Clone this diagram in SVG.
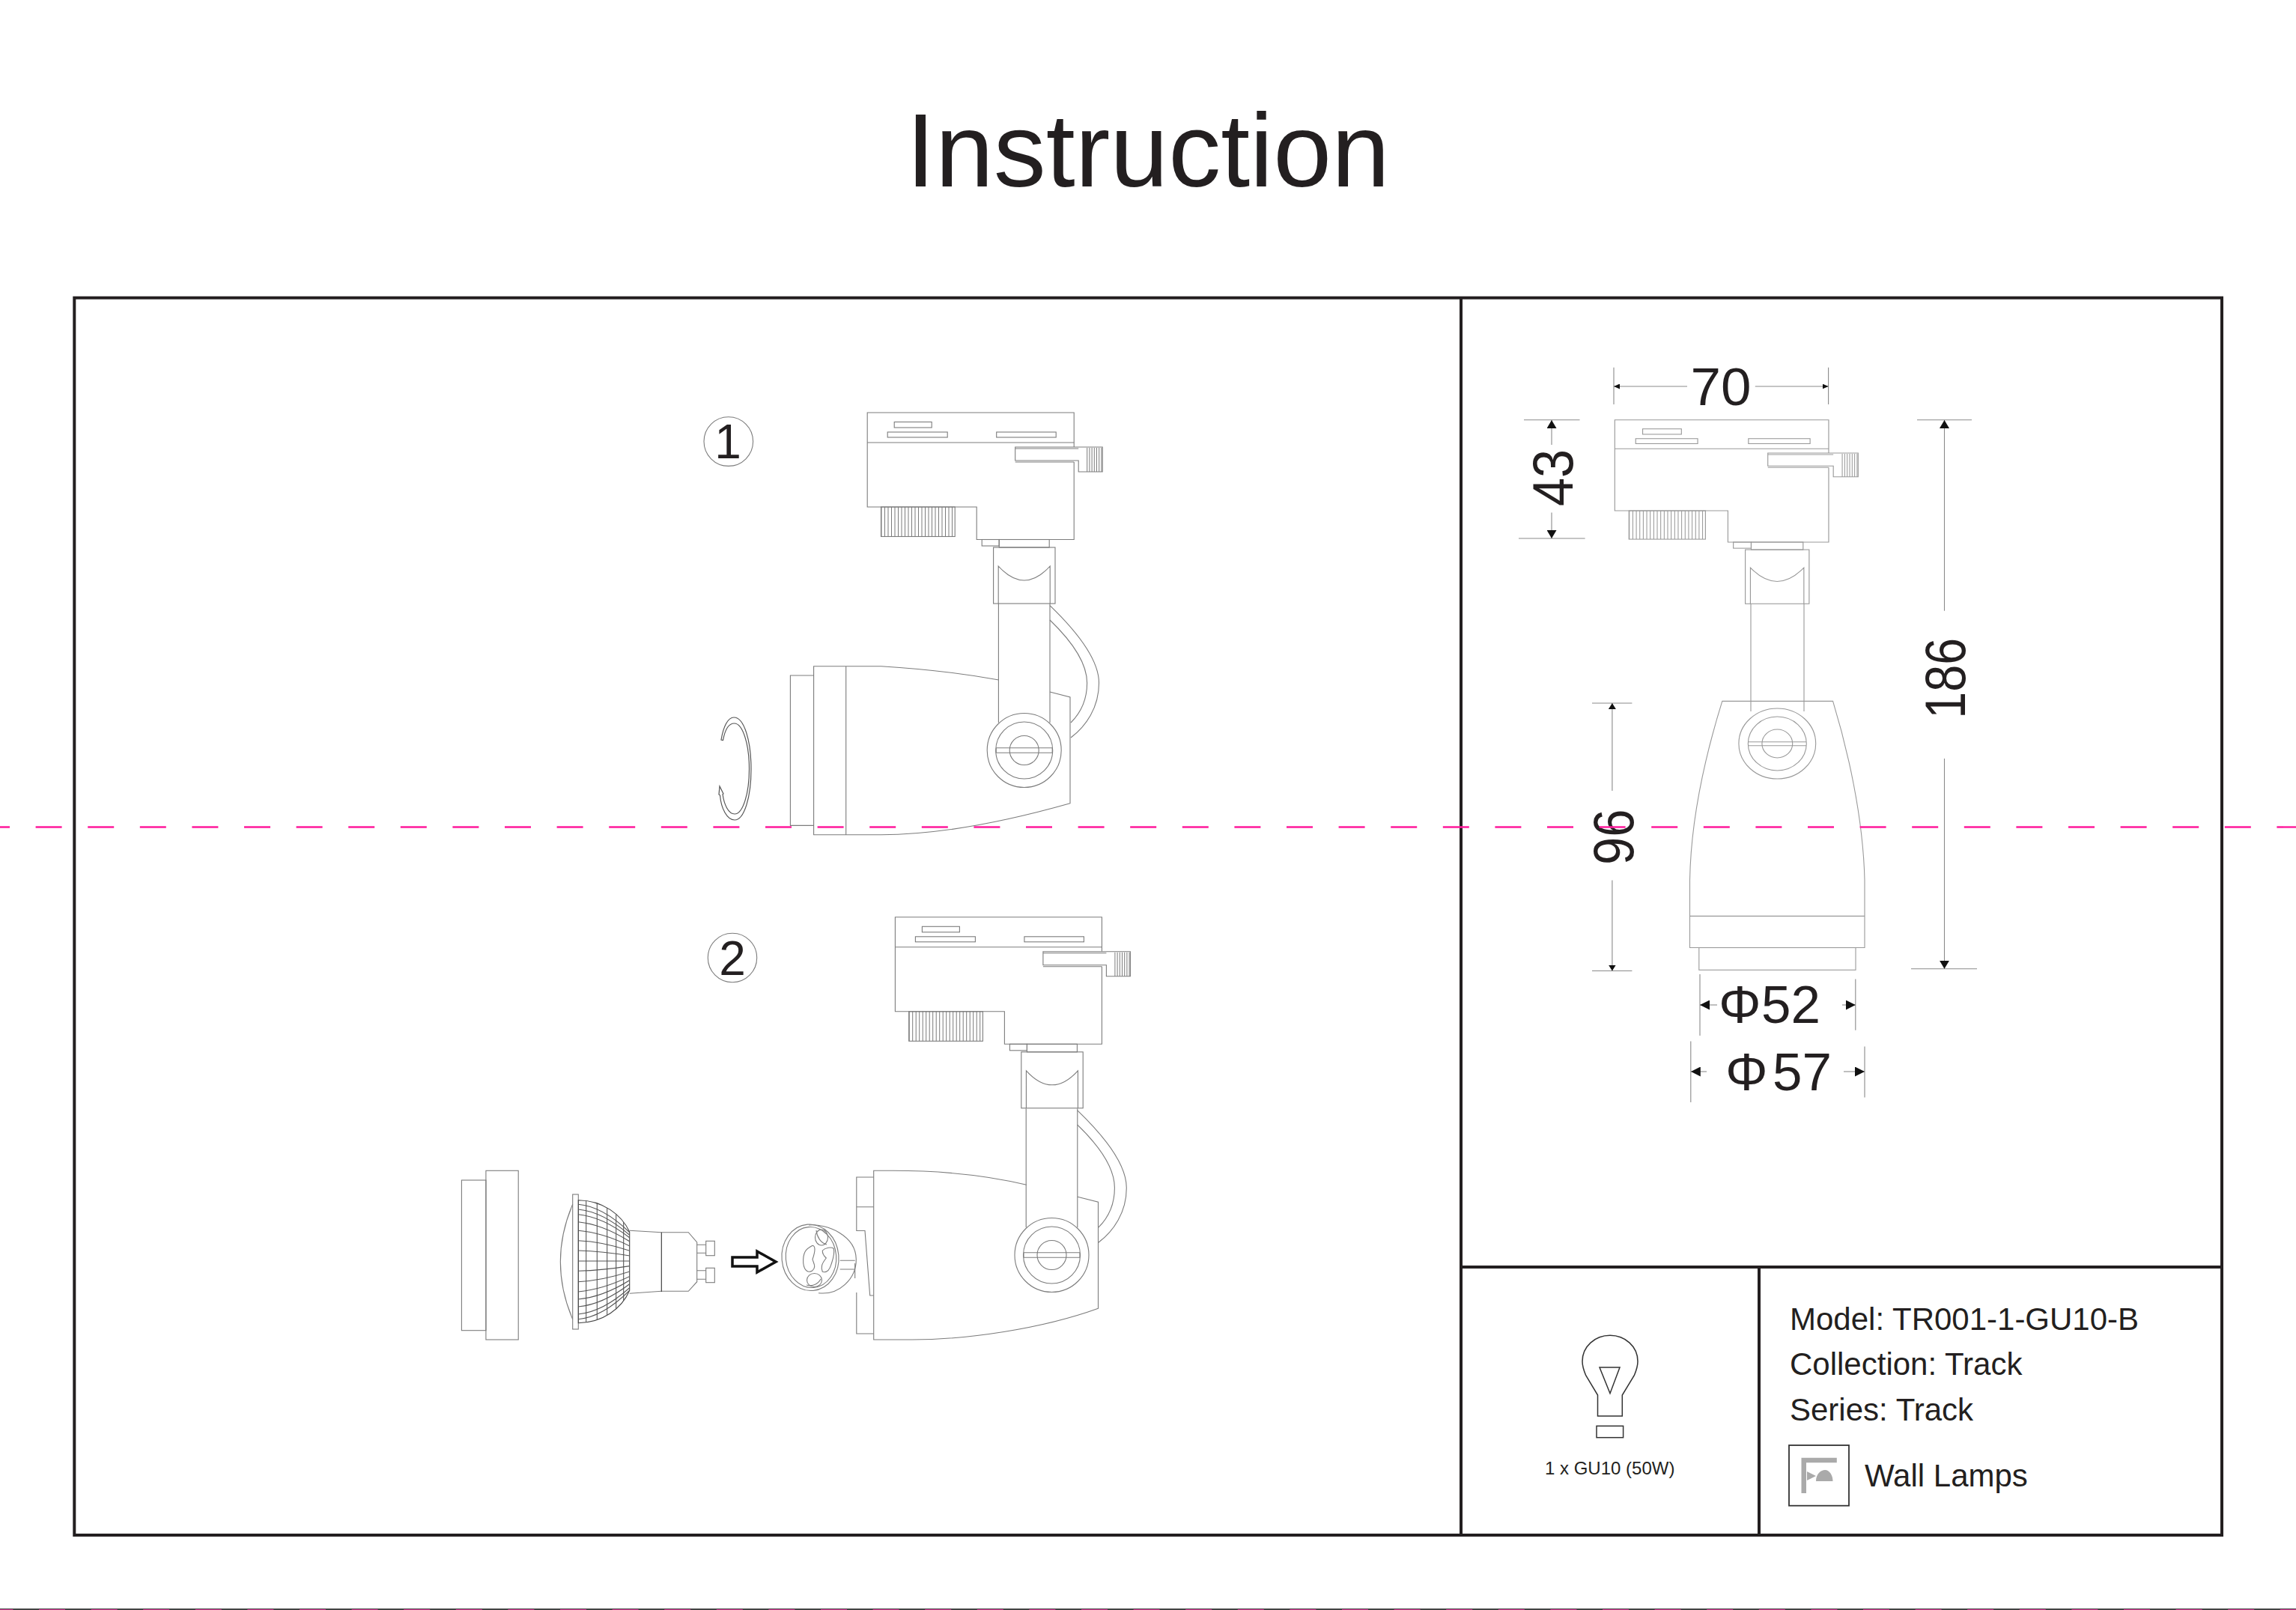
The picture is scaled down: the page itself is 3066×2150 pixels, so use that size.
<svg xmlns="http://www.w3.org/2000/svg" width="3066" height="2150" viewBox="0 0 3066 2150">
<style>
text{font-family:"Liberation Sans",Arial,sans-serif;fill:#231f20}
.l{fill:none;stroke:#7c7c7c;stroke-width:1.1}
.t{fill:none;stroke:#999;stroke-width:1.1}
.d{fill:none;stroke:#8a8a8a;stroke-width:1.1}
.p{fill:none;stroke:#ff1a9c;stroke-width:2.4;stroke-dasharray:35 34.6}
.f{fill:none;stroke:#231f20;stroke-width:4}
.b{font-size:42px}
.n{font-size:71px}
.r{font-size:76px;text-anchor:middle}
.c{font-size:64px;text-anchor:middle}
</style>
<defs>
<marker id="a" markerUnits="userSpaceOnUse" markerWidth="8" markerHeight="7" refX="8" refY="3.5" orient="auto-start-reverse"><path d="M0 0L8 3.5L0 7Z" fill="#111"/></marker>
<marker id="b" markerUnits="userSpaceOnUse" markerWidth="11" markerHeight="13" refX="11" refY="6.5" orient="auto-start-reverse"><path d="M0 0L11 6.5L0 13Z" fill="#111"/></marker>
<marker id="c" markerUnits="userSpaceOnUse" markerWidth="8" markerHeight="10" refX="8" refY="5" orient="auto-start-reverse"><path d="M0 0L8 5L0 10Z" fill="#111"/></marker>
<marker id="e" markerUnits="userSpaceOnUse" markerWidth="13" markerHeight="13" refX="13" refY="6.5" orient="auto-start-reverse"><path d="M0 0L13 6.5L0 13Z" fill="#111"/></marker>
<clipPath id="dome-clip"><path d="M772.3 1602.7C805 1603 830 1622 840.7 1645V1723.3C830 1748 805 1766 772.3 1766.7Z"/></clipPath>
<g id="head">
<path d="M276 46V0H0V126H146V169.5H276V66"/>
<path d="M0 40H276"/>
<rect x="36" y="12.5" width="50" height="7.5"/>
<rect x="27" y="26" width="80" height="7"/>
<rect x="172.5" y="26" width="79.5" height="7"/>
<path d="M197.500 46H314V79H282V64H197.500ZM197.500 66H276M197.500 48H282"/>
<line x1="293" y1="63" x2="314" y2="63" stroke-width="32" stroke-dasharray="1 2.2"/>
<rect x="18.300" y="126" width="98.700" height="39.500"/>
<line x1="18.300" y1="145.700" x2="117" y2="145.700" stroke-width="39.500" stroke-dasharray="1 3.500"/>
<rect x="153" y="169.500" width="23" height="8.500"/>
<rect x="176" y="169.500" width="67" height="10.500"/>
<rect x="168.400" y="180" width="82.400" height="75"/>
<path d="M175 255V205Q209.500 243 244 205V255"/>
</g>
<g id="arm">
<path d="M1333.400 806V965M1402 806V965"/>
<path d="M1402 808.600C1445 850 1467.500 885 1467.500 912C1467.500 945 1450 970 1430 985"/>
<path d="M1402 828C1430 855 1451.600 885 1451.600 912C1451.600 935 1442 953 1430 965"/>
</g>
<g id="pivot">
<circle r="49.500" fill="#fff"/>
<circle r="38" fill="#fff"/>
<circle r="19.500"/>
<path d="M-37.500 -3.300H37.500M-37.500 3.300H37.500M-37.500 -3.300V3.300M37.500 -3.300V3.300"/>
</g>
</defs>
<rect width="3066" height="2150" fill="#fff"/>
<text id="title" x="1210" y="248.700" font-size="140">Instruction</text>
<g id="frame" class="f">
<rect x="99.300" y="397.700" width="2867.700" height="1652.300"/>
<path d="M1951 397.700V2050M1951 1692H2967M2349 1692V2050"/>
</g>
<g id="step-1">
<circle cx="972.800" cy="589.600" r="32.800" class="l"/>
<text class="c" x="972" y="611.700">1</text>
<use href="#head" class="l" transform="translate(1158.200 551)"/>
<use href="#arm" class="l"/>
<path class="l" d="M1333.800 908C1290 900 1230 893 1176.800 889.700H1086.600V1114.700H1176.800C1250 1114.700 1340 1098 1429 1072.800V931L1402 924M1129.700 889.700V1114.700M1086.600 902H1055.400V1102.400H1086.600"/>
<use href="#pivot" class="l" transform="translate(1367.700 1002)"/>
<path id="rotate-arrow" fill="none" stroke="#555" stroke-width="1.200" d="M963 988C966 970 972 958 980 958C994 958 1003 990 1003 1027C1003 1064 994 1095 981 1095C971 1095 963 1080 961.500 1062L960 1061L961 1050L966 1060L965 1060.500C967 1075 973 1087 981 1087C992 1087 1000.500 1060 1000.500 1027C1000.500 994 992 966 980.500 966C973 966 968 975 965.500 988.500Z"/>
</g>
<g id="step-2">
<circle cx="978" cy="1279" r="32.700" class="l"/>
<text class="c" x="978" y="1301.500">2</text>
<use href="#head" class="l" transform="translate(1195.400 1224.800)"/>
<use href="#arm" class="l" transform="translate(36.800 674.200)"/>
<path class="l" d="M1143.800 1644V1572H1166.700M1143.800 1726V1781H1166.700M1143.800 1611.700H1166.700M1143.800 1643.500H1155L1161.700 1730H1166.700"/>
<path class="l" d="M1370.800 1582.300C1320 1570 1260 1563.300 1192 1563.300H1166.700V1789H1217.800C1290 1789 1390 1775 1466.500 1747.300V1605.300L1439 1598.300"/>
<use href="#pivot" class="l" transform="translate(1404.500 1676)"/>
<g id="trim-ring" class="l"><rect x="616.400" y="1576" width="32.500" height="200.700"/><rect x="648.900" y="1563.300" width="43.300" height="225.700"/></g>
<g id="bulb" class="l">
<rect x="764.700" y="1595" width="7.600" height="180"/>
<path d="M764.700 1608.300Q732 1685 764.700 1761.700"/>
<path stroke="#444" d="M772.300 1602.700C805 1603 830 1622 840.700 1645V1723.300C830 1748 805 1766 772.300 1766.700Z"/>
<g clip-path="url(#dome-clip)" stroke="#555">
<path d="M782.700 1600V1770M797.300 1600V1770M810.700 1600V1770M822.700 1600V1770M832.700 1600V1770"/>
<path d="M772 1608.300Q805 1611 841 1646M772 1615Q805 1618 841 1649.500M772 1621.700Q805 1625 841 1653M772 1631.700Q805 1635 841 1658M772 1643.300Q805 1646 841 1664M772 1656.700Q805 1658 841 1670.300M772 1670Q805 1671 841 1677M772 1684H841M772 1697.300Q805 1696.300 841 1690.600M772 1711.700Q805 1710 841 1698M772 1725Q805 1722 841 1704.500M772 1735Q805 1732 841 1709.500M772 1745Q805 1742 841 1714.500M772 1755Q805 1752 841 1719.500M772 1761.700Q805 1759 841 1723"/>
</g>
<path d="M840.700 1643.300L883.300 1645.700H919.300L930.700 1659V1711.700L919.300 1724.300H883.300L840.700 1727.300"/>
<path stroke="#333" d="M883.300 1645.700V1725"/>
<path d="M930.700 1662.300H942.700M930.700 1673.300H942.700M930.700 1696.700H942.700M930.700 1708.300H942.700"/>
<rect x="942.700" y="1657.300" width="11.600" height="19.400"/>
<rect x="942.700" y="1693.300" width="11.600" height="19.400"/>
</g>
<path id="insert-arrow" fill="#fff" stroke="#111" stroke-width="3.500" d="M978 1679H1011V1671L1036 1685L1011 1699V1691H978Z"/>
<g id="socket" class="l">
<path d="M1080 1636C1105 1634 1143 1650 1143.300 1681.700C1143.500 1708 1120 1730 1093 1726.700"/>
<path d="M1121.700 1683.300H1141.700M1121.700 1695H1141.700M1141.700 1687V1707"/>
<ellipse cx="1082" cy="1679.300" rx="38" ry="44.300" transform="rotate(-5 1082 1679.300)"/>
<ellipse cx="1083" cy="1679" rx="33.700" ry="40.500" transform="rotate(-5 1083 1679)"/>
<ellipse cx="1097" cy="1652.500" rx="8.500" ry="10.500"/>
<path d="M1090 1643C1091 1652 1096 1660 1104 1662"/>
<ellipse cx="1087.500" cy="1709.500" rx="10" ry="9"/>
<path d="M1077 1716C1083 1718 1092 1716 1096 1708"/>
<path d="M1072.700 1686.700C1072 1672 1076 1668 1085 1663.300C1089 1664 1089 1670 1085 1681.700C1087 1688 1090 1692 1085 1696.700C1080 1700 1074 1698 1072.700 1686.700Z"/>
<path d="M1098.300 1670C1102 1666 1110 1665 1113.300 1667.300C1115 1675 1112 1682 1110 1688.300C1108 1695 1104 1700 1098.300 1698.300C1096 1692 1097 1688 1103.300 1680C1100 1677 1098 1674 1098.300 1670Z"/>
</g>
</g>
<g id="dimension-view" class="t">
<use href="#head" transform="translate(2156.300 560.700) scale(1.035 .963)"/>
<path d="M2338 806V950M2409 806V950"/>
<path d="M2256.500 1175.500C2258 1090 2280 1000 2299.800 936.400H2447.600C2467 1000 2488 1090 2490 1175.500V1265.500H2256.500ZM2256.500 1223.400H2490"/>
<rect x="2268.800" y="1265.500" width="209.200" height="29.800"/>
<ellipse cx="2373.300" cy="993" rx="51.400" ry="47" fill="#fff"/>
<ellipse cx="2373.300" cy="993" rx="39" ry="36"/>
<ellipse cx="2373.300" cy="993" rx="20.400" ry="19"/>
<path d="M2334.500 990.700H2412M2334.500 995.700H2412"/>
</g>
<g id="connectors" class="d">
<path d="M2155 490.700V540M2441.600 490.700V540"/>
<line x1="2253" y1="516" x2="2155" y2="516" marker-end="url(#a)"/>
<line x1="2343.800" y1="516" x2="2441.600" y2="516" marker-end="url(#a)"/>
<path d="M2035 560.700H2109.500M2028 719H2116.600"/>
<line x1="2072" y1="594" x2="2072" y2="561" marker-end="url(#b)"/>
<line x1="2072" y1="684.600" x2="2072" y2="719" marker-end="url(#b)"/>
<path d="M2560 560.700H2633M2552 1293.800H2640"/>
<line x1="2596.500" y1="815.700" x2="2596.500" y2="561" marker-end="url(#b)"/>
<line x1="2596.500" y1="1013" x2="2596.500" y2="1293.800" marker-end="url(#b)"/>
<path d="M2126 939H2179.400M2126 1296.500H2179.400"/>
<line x1="2152.900" y1="1056" x2="2152.900" y2="939" marker-end="url(#c)"/>
<line x1="2152.900" y1="1175.500" x2="2152.900" y2="1296.500" marker-end="url(#c)"/>
<path d="M2270 1301V1383M2477.800 1307.600V1375.700M2257.800 1390.600V1472M2490 1397.500V1465.600"/>
<line x1="2293" y1="1342" x2="2270" y2="1342" marker-end="url(#e)"/>
<line x1="2460" y1="1342" x2="2477.800" y2="1342" marker-end="url(#e)"/>
<line x1="2279" y1="1431" x2="2257.800" y2="1431" marker-end="url(#e)"/>
<line x1="2462" y1="1431" x2="2490" y2="1431" marker-end="url(#e)"/>
</g>
<g id="dimension-labels">
<text class="n" x="2257.500" y="540.700" textLength="81" lengthAdjust="spacingAndGlyphs">70</text>
<text class="r" transform="translate(2099.600 638) rotate(-90) scale(.9 1)">43</text>
<text class="r" transform="translate(2623.800 905.800) rotate(-90) scale(.85 1)">186</text>
<text class="r" transform="translate(2180.600 1117.800) rotate(-90) scale(.88 1)">96</text>
<text class="n" x="2295 2352" y="1366">Φ52</text>
<text class="n" x="2304 2367" y="1456">Φ57</text>
</g>
<g id="bulb-info">
<g fill="none" stroke="#333" stroke-width="1.500">
<path d="M2133.500 1891V1863L2117.700 1836.700C2114 1828 2113 1823 2113 1818C2113 1798 2130 1783.300 2150 1783.300C2170 1783.300 2187 1798 2187 1818C2187 1823 2186 1828 2182.300 1836.700L2166.300 1863V1891Z"/>
<path d="M2136 1826H2163L2150 1860.700Z"/>
<rect x="2132" y="1904.300" width="35.600" height="15.400"/>
</g>
<text x="2063" y="1969.300" font-size="24">1 x GU10 (50W)</text>
</g>
<g id="model-info">
<text class="b" x="2390" y="1776">Model: TR001-1-GU10-B</text>
<text class="b" x="2390" y="1835.700">Collection: Track</text>
<text class="b" x="2390" y="1896.500">Series: Track</text>
<rect x="2389" y="1930" width="80" height="80.700" fill="none" stroke="#333" stroke-width="1.800"/>
<path fill="#aaa" d="M2405.500 1946.700H2452.800V1953.300H2412V1994H2405.500ZM2425 1978C2425 1968 2432 1963 2437 1963C2443 1963 2447.500 1970 2447.500 1978ZM2413 1965L2425 1971L2413 1977Z"/>
<text class="b" x="2490" y="1985">Wall Lamps</text>
</g>
<g id="guides">
<line class="p" x1="-22" y1="1104.500" x2="3066" y2="1104.500"/>
<rect y="2148" width="3066" height="2" fill="#444"/>
<line class="p" style="stroke:#d93a96;stroke-width:1" x1="-17.600" y1="2149.500" x2="3066" y2="2149.500"/>
</g>
</svg>
